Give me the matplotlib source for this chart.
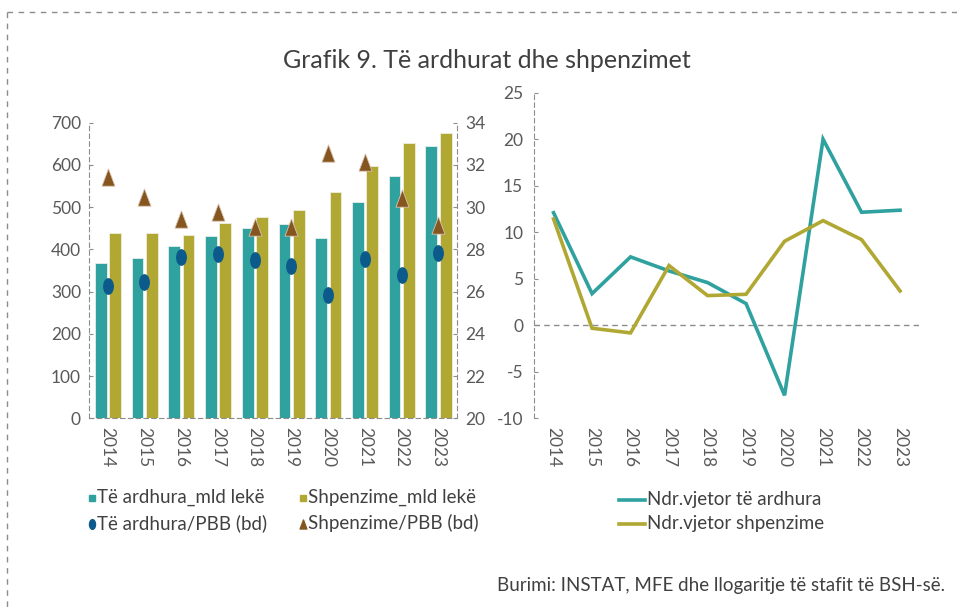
import matplotlib
matplotlib.use("Agg")
import matplotlib.pyplot as plt
import numpy as np
from matplotlib.path import Path
from matplotlib.transforms import Affine2D
from matplotlib.lines import Line2D

plt.rcParams['font.family'] = ['Lato', 'DejaVu Sans']
plt.rcParams['axes.unicode_minus'] = False

years = ['2014', '2015', '2016', '2017', '2018', '2019', '2020', '2021', '2022', '2023']
revenue_bn = [367, 380, 408, 432, 451, 461, 427, 512, 574, 645]
expend_bn = [439, 438, 434, 462, 477, 493, 537, 597, 652, 676]
revenue_gdp = [26.28, 26.44, 27.64, 27.77, 27.48, 27.21, 25.84, 27.53, 26.79, 27.81]
expend_gdp = [31.42, 30.50, 29.46, 29.76, 29.08, 29.08, 32.55, 32.14, 30.45, 29.16]
rev_growth = [12.1, 3.4, 7.35, 5.84, 4.59, 2.33, -7.53, 20.0, 12.15, 12.37]
exp_growth = [11.43, -0.32, -0.82, 6.42, 3.19, 3.33, 9.03, 11.25, 9.21, 3.69]

TEAL = '#2fa19f'
GOLD = '#b0a832'
BLUE = '#0c5a8c'
BROWN = '#85561f'
TXT = '#595959'
DARK = '#404040'
GRID = '#8c8c8c'

ellipse = Path.unit_circle().transformed(Affine2D().scale(0.62, 1.0))
tri = Path([(-0.6, -0.8), (0.6, -0.8), (0.0, 0.8), (-0.6, -0.8)],
           [Path.MOVETO, Path.LINETO, Path.LINETO, Path.CLOSEPOLY])

fig = plt.figure(figsize=(9.57, 6.12), dpi=100)
W, H = 957, 612

def ax_rect(x0, y0, x1, y1):
    return [x0 / W, 1 - y1 / H, (x1 - x0) / W, (y1 - y0) / H]

# dashed frame
fig.add_artist(Line2D([7/W, 1], [1 - 12/H, 1 - 12/H], transform=fig.transFigure,
                      color=GRID, lw=1, ls=(0, (4, 4))))
fig.add_artist(Line2D([7/W, 7/W], [1 - 12/H, 0], transform=fig.transFigure,
                      color=GRID, lw=1, ls=(0, (4, 4))))

fig.text(487/W, 1 - 60/H, 'Grafik 9. Të ardhurat dhe shpenzimet', ha='center', va='center',
         fontsize=18, color=DARK)

# left chart
ax = fig.add_axes(ax_rect(89.3, 122.7, 456.7, 418.3))
x = np.arange(len(years))
ax.bar(x - 0.19, revenue_bn, width=0.32, color=TEAL, edgecolor='#e8efe8', linewidth=0.6, zorder=2)
ax.bar(x + 0.20, expend_bn, width=0.32, color=GOLD, edgecolor='#efeedd', linewidth=0.6, zorder=2)
ax.set_xlim(-0.5, len(years) - 0.5)
ax.set_ylim(0, 700)
ax.set_yticks(range(0, 701, 100))
ax.set_xticks(x)
ax.set_xticklabels(years, rotation=-90)
for s in ['top', 'right']:
    ax.spines[s].set_visible(False)
for s in ['left', 'bottom']:
    ax.spines[s].set_color(GRID)
    ax.spines[s].set_linestyle((0, (4, 3)))
ax.tick_params(axis='y', direction='in', length=3, color=GRID, labelsize=12.5, labelcolor=TXT, pad=6)
ax.tick_params(axis='x', length=0, labelsize=12.5, labelcolor=TXT, pad=6)

ax2 = ax.twinx()
ax2.set_ylim(20, 34)
ax2.set_yticks(range(20, 35, 2))
ax2.plot(x, revenue_gdp, ls='none', marker=ellipse, markersize=11, color=BLUE, zorder=3)
ax2.plot(x, expend_gdp, ls='none', marker=tri, markersize=12.5, markerfacecolor=BROWN,
         markeredgecolor='#d9c2b0', markeredgewidth=0.6, zorder=3)
for s in ['top', 'left', 'bottom']:
    ax2.spines[s].set_visible(False)
ax2.spines['right'].set_color(GRID)
ax2.spines['right'].set_linestyle((0, (4, 3)))
ax2.tick_params(axis='y', direction='in', length=3, color=GRID, labelsize=12.5, labelcolor=TXT, pad=6)

# left legend
leg_items = [
    (92, 497, 's', TEAL, 'Të ardhura_mld lekë'),
    (303, 497, 's', GOLD, 'Shpenzime_mld lekë'),
    (92, 523, 'e', BLUE, 'Të ardhura/PBB (bd)'),
    (303, 523, 't', BROWN, 'Shpenzime/PBB (bd)'),
]
for (px, py, kind, col, lab) in leg_items:
    if kind == 's':
        m = 's'; ms = 4.5
    elif kind == 'e':
        m = ellipse; ms = 7
    else:
        m = tri; ms = 6.5
    fig.add_artist(Line2D([px / W], [1 - (py + 1) / H], transform=fig.transFigure, ls='none',
                          marker=m, markersize=ms, color=col))
    fig.text((px + 5) / W, 1 - py / H, lab, ha='left', va='center', fontsize=13.5, color=DARK)

# right chart
axr = fig.add_axes(ax_rect(534.3, 92.7, 919.3, 418.3))
axr.plot(x, rev_growth, color=TEAL, lw=2.6, solid_joinstyle='miter', zorder=3)
axr.plot(x, exp_growth, color=GOLD, lw=2.6, solid_joinstyle='miter', zorder=3)
axr.set_xlim(-0.5, len(years) - 0.5)
axr.set_ylim(-10, 25)
axr.set_yticks(range(-10, 26, 5))
axr.set_xticks(x)
axr.set_xticklabels(years, rotation=-90)
axr.axhline(0, color=GRID, lw=1, ls=(0, (4, 3)), zorder=1)
for s in ['top', 'right', 'bottom']:
    axr.spines[s].set_visible(False)
axr.spines['left'].set_color(GRID)
axr.spines['left'].set_linestyle((0, (4, 3)))
axr.tick_params(axis='y', direction='in', length=3, color=GRID, labelsize=12.5, labelcolor=TXT, pad=8)
axr.tick_params(axis='x', length=0, labelsize=12.5, labelcolor=TXT, pad=6)

# right legend
for py, col, lab in [(500, TEAL, 'Ndr.vjetor të ardhura'), (524, GOLD, 'Ndr.vjetor shpenzime')]:
    fig.add_artist(Line2D([619 / W, 645 / W], [1 - py / H, 1 - py / H], transform=fig.transFigure,
                          color=col, lw=2.6))
    fig.text(647 / W, 1 - py / H, lab, ha='left', va='center', fontsize=13.5, color=DARK)

fig.text(945 / W, 1 - 586 / H, 'Burimi: INSTAT, MFE dhe llogaritje të stafit të BSH-së.',
         ha='right', va='center', fontsize=13.5, color=DARK)

fig.savefig('out.png', dpi=100)
